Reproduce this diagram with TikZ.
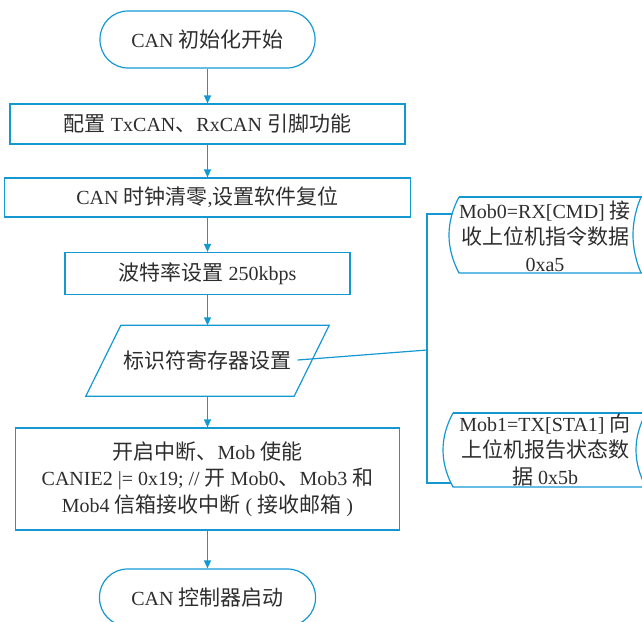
\documentclass[tikz,border=0pt]{standalone}
\usepackage{fontspec}
\setmainfont{Liberation Serif}
\newfontfamily\cjk[Scale=1.05]{Noto Sans CJK SC}
\usetikzlibrary{arrows.meta}
\definecolor{lc}{RGB}{20,152,210}
\definecolor{tc}{RGB}{45,45,45}
\newcommand\zh[1]{{\cjk #1}}
\begin{document}
\begin{tikzpicture}[x=1pt,y={(0pt,-1pt)},
  txt/.style={text=tc, font=\fontsize{20}{26.5}\selectfont, align=center, inner sep=0pt},
  procbox/.style={txt, draw=lc, line width=1.2pt, rectangle},
  termbox/.style={txt, draw=lc, line width=1.2pt, rectangle, rounded corners=28pt},
  shapeline/.style={draw=lc, line width=1.2pt},
  arr/.style={draw=lc, line width=1.2pt, -{Triangle[length=8pt,width=7pt]}},
  conn/.style={draw=lc, line width=1.2pt}]
\useasboundingbox (0,0) rectangle (642,621);
\clip (0,0) rectangle (642,621);

\node[termbox, minimum width=215pt, minimum height=57pt] (start) at (207.5,39.5) {CAN \zh{初始化开始}};
\node[procbox, minimum width=395pt, minimum height=40pt] (b1) at (207.5,124) {\zh{配置} TxCAN\zh{、}RxCAN \zh{引脚功能}};
\node[procbox, minimum width=406pt, minimum height=39pt] (b2) at (207.5,197.5) {CAN \zh{时钟清零},\zh{设置软件复位}};
\node[procbox, minimum width=285pt, minimum height=42pt] (b3) at (207.5,273.5) {\zh{波特率设置} 250kbps};
\node[draw=none, minimum width=243pt, minimum height=70.5pt, inner sep=0pt] (p) at (207.5,360.75) {};
\draw[shapeline] ([xshift=35pt]p.north west) -- (p.north east) -- ([xshift=-35pt]p.south east) -- (p.south west) -- cycle;
\node[txt, inner sep=6pt] (pt) at (207.5,360) {\zh{标识符寄存器设置}};
\node[procbox, minimum width=384pt, minimum height=102pt] (b4) at (207.5,479) {\zh{开启中断、}Mob \zh{使能}\\CANIE2 |= 0x19; // \zh{开} Mob0\zh{、}Mob3 \zh{和}\\Mob4 \zh{信箱接收中断} ( \zh{接收邮箱} )};
\node[termbox, minimum width=216pt, minimum height=57pt] (stop) at (207.5,597.5) {CAN \zh{控制器启动}};

\draw[arr] (start.south) -- (b1.north);
\draw[arr] (b1.south) -- (b2.north);
\draw[arr] (b2.south) -- (b3.north);
\draw[arr] (b3.south) -- (p.north);
\draw[arr] (p.south) -- (b4.north);
\draw[arr] (b4.south) -- (stop.north);

% stored-data shapes
\draw[shapeline] (459,197) -- (650,197);
\draw[shapeline] (459,197) .. controls (445.67,222.33) and (445.67,247.67) .. (459,273) -- (650,273);
\draw[shapeline] (641,197) .. controls (630.33,222.33) and (630.33,247.67) .. (641,273);
\node[txt] (m0) at (545,236) {Mob0=RX[CMD] \zh{接}\\\zh{收上位机指令数据}\\0xa5};

\draw[shapeline] (453,413) -- (650,413);
\draw[shapeline] (453,413) .. controls (439.67,437.67) and (439.67,462.33) .. (453,487) -- (650,487);
\draw[shapeline] (646,413) .. controls (632.67,437.67) and (632.67,462.33) .. (646,487);
\node[txt] (m1) at (545,450) {Mob1=TX[STA1] \zh{向}\\\zh{上位机报告状态数}\\\zh{据} 0x5b};

\coordinate (j) at (427,350);
\coordinate (jt) at (427,214);
\coordinate (jb) at (427,483);
\coordinate (a0) at (452,214);
\coordinate (a1) at (451,483);
\draw[conn] (pt.east) -- (j);
\draw[conn] (a0) -- (jt) -- (jb) -- (a1);
\end{tikzpicture}
\end{document}
